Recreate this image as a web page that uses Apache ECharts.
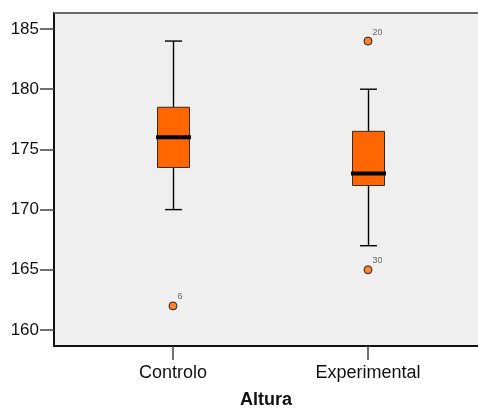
<!DOCTYPE html>
<html>
<head>
<meta charset="utf-8">
<script src="https://cdn.jsdelivr.net/npm/echarts@6/dist/echarts.min.js"></script>
<style>
  html, body { margin: 0; padding: 0; background: #fff; }
  #chart { width: 478px; height: 408px; }
</style>
</head>
<body>
<div id="chart"></div>
<script>
// Group labels and their positions on the horizontal axis
const groups = ['Controlo', 'Experimental'];
const groupPos = [0, 1];

// Five-number summaries per group: [lower whisker, Q1, median, Q3, upper whisker]
const controloStats = [170, 173.5, 176, 178.5, 184];
const experimentalStats = [167, 172, 173, 176.5, 180];

// Outliers: group index, value, case number
const outlierGroup = [0, 1, 1];
const outlierValue = [162, 184, 165];
const outlierCase = ['6', '20', '30'];

// Y tick labels
const yTicks = [160, 165, 170, 175, 180, 185];

const boxData = [
  [groupPos[0]].concat(controloStats),
  [groupPos[1]].concat(experimentalStats)
];
const outlierData = outlierValue.map((v, i) => ({
  value: [groupPos[outlierGroup[i]], v],
  caseId: outlierCase[i]
}));

const FONT = 'Liberation Sans, Arial, sans-serif';

function renderBox(params, api) {
  const x = api.value(0);
  const low = api.coord([x, api.value(1)]);
  const q1 = api.coord([x, api.value(2)]);
  const med = api.coord([x, api.value(3)]);
  const q3 = api.coord([x, api.value(4)]);
  const high = api.coord([x, api.value(5)]);
  const cx = Math.round(low[0]) + 0.5;
  const halfBox = 16;
  const halfCap = 8.5;
  const lineStyle = { stroke: '#000', lineWidth: 1.4 };
  return {
    type: 'group',
    children: [
      { type: 'line', shape: { x1: cx, y1: high[1], x2: cx, y2: q3[1] }, style: lineStyle },
      { type: 'line', shape: { x1: cx, y1: q1[1], x2: cx, y2: low[1] }, style: lineStyle },
      { type: 'line', shape: { x1: cx - halfCap, y1: high[1], x2: cx + halfCap, y2: high[1] }, style: lineStyle },
      { type: 'line', shape: { x1: cx - halfCap, y1: low[1], x2: cx + halfCap, y2: low[1] }, style: lineStyle },
      {
        type: 'rect',
        shape: { x: cx - halfBox, y: q3[1], width: halfBox * 2, height: q1[1] - q3[1] },
        style: { fill: '#ff6600', stroke: '#3a2a1a', lineWidth: 1 }
      },
      { type: 'line', shape: { x1: cx - halfBox - 1.5, y1: med[1], x2: cx + halfBox + 1.5, y2: med[1] }, style: { stroke: '#000', lineWidth: 4 } }
    ]
  };
}

const chart = echarts.init(document.getElementById('chart'), null, { renderer: 'canvas' });
chart.setOption({
  animation: false,
  backgroundColor: '#ffffff',
  grid: {
    left: 54, top: 13, right: 0, bottom: 62,
    outerBoundsMode: 'none',
    containLabel: false,
    show: true, backgroundColor: '#efefef', borderWidth: 0
  },
  xAxis: {
    type: 'value',
    min: -0.61,
    max: 1.564,
    name: 'Altura',
    nameLocation: 'middle',
    nameGap: 45,
    nameTextStyle: { fontFamily: FONT, fontSize: 18, fontWeight: 'bold', color: '#111' },
    splitLine: { show: false },
    axisLine: { show: true, onZero: false, lineStyle: { color: '#111', width: 2 } },
    axisTick: { show: true, length: 14, customValues: groupPos, lineStyle: { color: '#444', width: 1.5 } },
    axisLabel: {
      customValues: groupPos,
      margin: 18,
      fontFamily: FONT, fontSize: 18, color: '#111',
      formatter: v => groups[groupPos.indexOf(Math.round(v))] || ''
    }
  },
  yAxis: [{
    type: 'value',
    min: 158.67,
    max: 186.33,
    splitLine: { show: false },
    axisLine: { show: true, onZero: false, lineStyle: { color: '#111', width: 2 } },
    axisTick: { show: true, length: 14, customValues: yTicks, lineStyle: { color: '#444', width: 1.5 } },
    axisLabel: {
      customValues: yTicks,
      margin: 15,
      fontFamily: FONT, fontSize: 17, color: '#111'
    }
  }],
  series: [
    {
      type: 'custom',
      renderItem: renderBox,
      encode: { x: 0, y: [1, 2, 3, 4, 5] },
      data: boxData,
      z: 3
    },
    {
      type: 'scatter',
      data: outlierData,
      symbol: 'circle',
      symbolSize: 8,
      itemStyle: { color: '#ff6600', borderColor: '#000', borderWidth: 1 },
      label: {
        show: true,
        position: [9, -9],
        align: 'left',
        verticalAlign: 'top',
        fontFamily: FONT,
        fontSize: 9,
        color: '#444',
        formatter: p => p.data.caseId
      },
      z: 4
    }
  ],
  graphic: [{
    type: 'line',
    shape: { x1: 54, y1: 13, x2: 478, y2: 13 },
    style: { stroke: '#6a6a6a', lineWidth: 2 },
    z: 10
  }]
});
</script>
</body>
</html>
